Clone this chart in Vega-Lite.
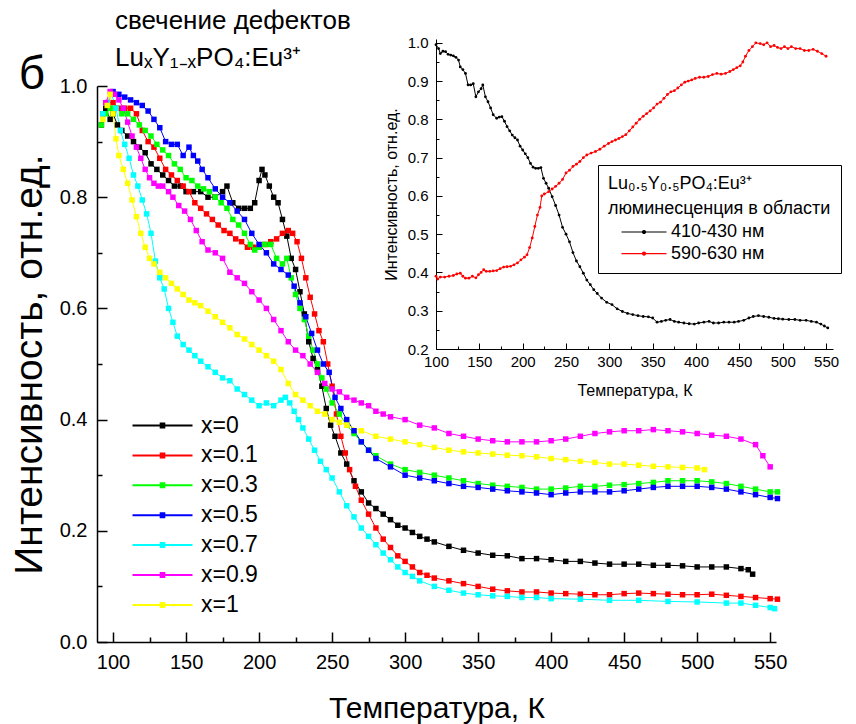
{
"$schema":"https://vega.github.io/schema/vega-lite/v6.json",
"width":739,"height":607,
"autosize":{"type":"none"},
"padding":{"left":97,"top":35,"right":20,"bottom":82},
"background":"white",
"config":{"font":"Liberation Sans","view":{"stroke":null},
 "axis":{"grid":false,"labelColor":"black","titleColor":"black","domainColor":"black","tickColor":"black","labelOverlap":false,"labelFlush":false,"titleFontWeight":"normal"}},
"title":{"text":["свечение дефектов","LuₓY₁₋ₓPO₄:Eu³⁺"],"anchor":"start","frame":"group","fontSize":26,"fontWeight":"normal","dx":18,"dy":36,"offset":0,"lineHeight":37,"color":"black"},
"datasets":{
"main":[
{"s":"x=0","t":92,"v":0.93},{"s":"x=0","t":95,"v":0.96},{"s":"x=0","t":98,"v":0.94},{"s":"x=0","t":100,"v":0.95},{"s":"x=0","t":103,"v":0.93},{"s":"x=0","t":106,"v":0.92},{"s":"x=0","t":110,"v":0.91},{"s":"x=0","t":114,"v":0.9},{"s":"x=0","t":118,"v":0.89},{"s":"x=0","t":122,"v":0.88},{"s":"x=0","t":126,"v":0.86},{"s":"x=0","t":130,"v":0.85},{"s":"x=0","t":134,"v":0.84},{"s":"x=0","t":138,"v":0.83},{"s":"x=0","t":142,"v":0.82},{"s":"x=0","t":146,"v":0.82},{"s":"x=0","t":150,"v":0.81},{"s":"x=0","t":155,"v":0.81},{"s":"x=0","t":160,"v":0.81},{"s":"x=0","t":165,"v":0.8},{"s":"x=0","t":170,"v":0.8},{"s":"x=0","t":175,"v":0.81},{"s":"x=0","t":178,"v":0.82},{"s":"x=0","t":182,"v":0.79},{"s":"x=0","t":186,"v":0.78},{"s":"x=0","t":190,"v":0.78},{"s":"x=0","t":194,"v":0.78},{"s":"x=0","t":197,"v":0.79},{"s":"x=0","t":200,"v":0.83},{"s":"x=0","t":202,"v":0.85},{"s":"x=0","t":204,"v":0.84},{"s":"x=0","t":207,"v":0.82},{"s":"x=0","t":210,"v":0.8},{"s":"x=0","t":213,"v":0.79},{"s":"x=0","t":216,"v":0.76},{"s":"x=0","t":219,"v":0.73},{"s":"x=0","t":222,"v":0.69},{"s":"x=0","t":225,"v":0.67},{"s":"x=0","t":228,"v":0.63},{"s":"x=0","t":231,"v":0.59},{"s":"x=0","t":234,"v":0.54},{"s":"x=0","t":237,"v":0.51},{"s":"x=0","t":240,"v":0.49},{"s":"x=0","t":243,"v":0.46},{"s":"x=0","t":246,"v":0.42},{"s":"x=0","t":249,"v":0.39},{"s":"x=0","t":252,"v":0.37},{"s":"x=0","t":256,"v":0.34},{"s":"x=0","t":260,"v":0.32},{"s":"x=0","t":265,"v":0.29},{"s":"x=0","t":270,"v":0.27},{"s":"x=0","t":275,"v":0.25},{"s":"x=0","t":280,"v":0.24},{"s":"x=0","t":285,"v":0.23},{"s":"x=0","t":290,"v":0.22},{"s":"x=0","t":295,"v":0.21},{"s":"x=0","t":300,"v":0.205},{"s":"x=0","t":305,"v":0.197},{"s":"x=0","t":310,"v":0.19},{"s":"x=0","t":315,"v":0.185},{"s":"x=0","t":320,"v":0.18},{"s":"x=0","t":330,"v":0.172},{"s":"x=0","t":340,"v":0.165},{"s":"x=0","t":350,"v":0.16},{"s":"x=0","t":360,"v":0.156},{"s":"x=0","t":370,"v":0.155},{"s":"x=0","t":380,"v":0.15},{"s":"x=0","t":390,"v":0.15},{"s":"x=0","t":400,"v":0.148},{"s":"x=0","t":410,"v":0.145},{"s":"x=0","t":420,"v":0.145},{"s":"x=0","t":430,"v":0.142},{"s":"x=0","t":440,"v":0.14},{"s":"x=0","t":450,"v":0.14},{"s":"x=0","t":460,"v":0.14},{"s":"x=0","t":470,"v":0.138},{"s":"x=0","t":480,"v":0.138},{"s":"x=0","t":490,"v":0.137},{"s":"x=0","t":500,"v":0.135},{"s":"x=0","t":510,"v":0.135},{"s":"x=0","t":520,"v":0.135},{"s":"x=0","t":530,"v":0.132},{"s":"x=0","t":535,"v":0.13},{"s":"x=0","t":538,"v":0.122},
{"s":"x=0.1","t":93,"v":0.95},{"s":"x=0.1","t":96,"v":0.97},{"s":"x=0.1","t":100,"v":0.97},{"s":"x=0.1","t":104,"v":0.96},{"s":"x=0.1","t":108,"v":0.96},{"s":"x=0.1","t":112,"v":0.96},{"s":"x=0.1","t":116,"v":0.95},{"s":"x=0.1","t":120,"v":0.92},{"s":"x=0.1","t":124,"v":0.9},{"s":"x=0.1","t":128,"v":0.89},{"s":"x=0.1","t":132,"v":0.87},{"s":"x=0.1","t":136,"v":0.85},{"s":"x=0.1","t":140,"v":0.84},{"s":"x=0.1","t":144,"v":0.83},{"s":"x=0.1","t":148,"v":0.82},{"s":"x=0.1","t":152,"v":0.81},{"s":"x=0.1","t":156,"v":0.79},{"s":"x=0.1","t":160,"v":0.78},{"s":"x=0.1","t":164,"v":0.77},{"s":"x=0.1","t":168,"v":0.76},{"s":"x=0.1","t":172,"v":0.75},{"s":"x=0.1","t":176,"v":0.74},{"s":"x=0.1","t":180,"v":0.735},{"s":"x=0.1","t":184,"v":0.725},{"s":"x=0.1","t":188,"v":0.72},{"s":"x=0.1","t":192,"v":0.71},{"s":"x=0.1","t":196,"v":0.71},{"s":"x=0.1","t":200,"v":0.71},{"s":"x=0.1","t":204,"v":0.715},{"s":"x=0.1","t":208,"v":0.72},{"s":"x=0.1","t":212,"v":0.725},{"s":"x=0.1","t":216,"v":0.735},{"s":"x=0.1","t":220,"v":0.74},{"s":"x=0.1","t":223,"v":0.735},{"s":"x=0.1","t":226,"v":0.72},{"s":"x=0.1","t":229,"v":0.69},{"s":"x=0.1","t":232,"v":0.655},{"s":"x=0.1","t":235,"v":0.62},{"s":"x=0.1","t":238,"v":0.59},{"s":"x=0.1","t":241,"v":0.56},{"s":"x=0.1","t":244,"v":0.54},{"s":"x=0.1","t":247,"v":0.5},{"s":"x=0.1","t":250,"v":0.46},{"s":"x=0.1","t":253,"v":0.41},{"s":"x=0.1","t":256,"v":0.37},{"s":"x=0.1","t":259,"v":0.34},{"s":"x=0.1","t":262,"v":0.31},{"s":"x=0.1","t":266,"v":0.28},{"s":"x=0.1","t":270,"v":0.255},{"s":"x=0.1","t":275,"v":0.23},{"s":"x=0.1","t":280,"v":0.205},{"s":"x=0.1","t":285,"v":0.185},{"s":"x=0.1","t":290,"v":0.17},{"s":"x=0.1","t":295,"v":0.155},{"s":"x=0.1","t":300,"v":0.145},{"s":"x=0.1","t":305,"v":0.135},{"s":"x=0.1","t":310,"v":0.125},{"s":"x=0.1","t":315,"v":0.12},{"s":"x=0.1","t":320,"v":0.115},{"s":"x=0.1","t":330,"v":0.11},{"s":"x=0.1","t":340,"v":0.105},{"s":"x=0.1","t":350,"v":0.1},{"s":"x=0.1","t":360,"v":0.095},{"s":"x=0.1","t":370,"v":0.092},{"s":"x=0.1","t":380,"v":0.09},{"s":"x=0.1","t":390,"v":0.09},{"s":"x=0.1","t":400,"v":0.088},{"s":"x=0.1","t":410,"v":0.087},{"s":"x=0.1","t":420,"v":0.086},{"s":"x=0.1","t":430,"v":0.085},{"s":"x=0.1","t":440,"v":0.085},{"s":"x=0.1","t":450,"v":0.087},{"s":"x=0.1","t":460,"v":0.088},{"s":"x=0.1","t":470,"v":0.087},{"s":"x=0.1","t":480,"v":0.086},{"s":"x=0.1","t":490,"v":0.085},{"s":"x=0.1","t":500,"v":0.085},{"s":"x=0.1","t":510,"v":0.086},{"s":"x=0.1","t":520,"v":0.084},{"s":"x=0.1","t":530,"v":0.082},{"s":"x=0.1","t":540,"v":0.08},{"s":"x=0.1","t":550,"v":0.078},{"s":"x=0.1","t":555,"v":0.077},
{"s":"x=0.3","t":92,"v":0.93},{"s":"x=0.3","t":95,"v":0.95},{"s":"x=0.3","t":98,"v":0.96},{"s":"x=0.3","t":102,"v":0.96},{"s":"x=0.3","t":106,"v":0.95},{"s":"x=0.3","t":110,"v":0.95},{"s":"x=0.3","t":114,"v":0.94},{"s":"x=0.3","t":118,"v":0.93},{"s":"x=0.3","t":122,"v":0.92},{"s":"x=0.3","t":126,"v":0.91},{"s":"x=0.3","t":130,"v":0.895},{"s":"x=0.3","t":134,"v":0.885},{"s":"x=0.3","t":138,"v":0.875},{"s":"x=0.3","t":142,"v":0.86},{"s":"x=0.3","t":146,"v":0.85},{"s":"x=0.3","t":150,"v":0.835},{"s":"x=0.3","t":154,"v":0.83},{"s":"x=0.3","t":158,"v":0.82},{"s":"x=0.3","t":162,"v":0.815},{"s":"x=0.3","t":166,"v":0.81},{"s":"x=0.3","t":170,"v":0.8},{"s":"x=0.3","t":174,"v":0.79},{"s":"x=0.3","t":178,"v":0.78},{"s":"x=0.3","t":182,"v":0.76},{"s":"x=0.3","t":186,"v":0.75},{"s":"x=0.3","t":190,"v":0.735},{"s":"x=0.3","t":194,"v":0.715},{"s":"x=0.3","t":197,"v":0.705},{"s":"x=0.3","t":200,"v":0.71},{"s":"x=0.3","t":204,"v":0.715},{"s":"x=0.3","t":208,"v":0.715},{"s":"x=0.3","t":212,"v":0.69},{"s":"x=0.3","t":216,"v":0.68},{"s":"x=0.3","t":219,"v":0.69},{"s":"x=0.3","t":222,"v":0.655},{"s":"x=0.3","t":225,"v":0.625},{"s":"x=0.3","t":228,"v":0.6},{"s":"x=0.3","t":231,"v":0.58},{"s":"x=0.3","t":234,"v":0.55},{"s":"x=0.3","t":237,"v":0.525},{"s":"x=0.3","t":240,"v":0.5},{"s":"x=0.3","t":243,"v":0.475},{"s":"x=0.3","t":246,"v":0.455},{"s":"x=0.3","t":250,"v":0.43},{"s":"x=0.3","t":255,"v":0.41},{"s":"x=0.3","t":260,"v":0.39},{"s":"x=0.3","t":265,"v":0.375},{"s":"x=0.3","t":270,"v":0.36},{"s":"x=0.3","t":275,"v":0.345},{"s":"x=0.3","t":280,"v":0.335},{"s":"x=0.3","t":290,"v":0.32},{"s":"x=0.3","t":300,"v":0.31},{"s":"x=0.3","t":310,"v":0.305},{"s":"x=0.3","t":320,"v":0.3},{"s":"x=0.3","t":330,"v":0.295},{"s":"x=0.3","t":340,"v":0.29},{"s":"x=0.3","t":350,"v":0.285},{"s":"x=0.3","t":360,"v":0.282},{"s":"x=0.3","t":370,"v":0.28},{"s":"x=0.3","t":380,"v":0.278},{"s":"x=0.3","t":390,"v":0.275},{"s":"x=0.3","t":400,"v":0.275},{"s":"x=0.3","t":410,"v":0.277},{"s":"x=0.3","t":420,"v":0.28},{"s":"x=0.3","t":430,"v":0.28},{"s":"x=0.3","t":440,"v":0.282},{"s":"x=0.3","t":450,"v":0.283},{"s":"x=0.3","t":460,"v":0.285},{"s":"x=0.3","t":470,"v":0.287},{"s":"x=0.3","t":480,"v":0.29},{"s":"x=0.3","t":490,"v":0.29},{"s":"x=0.3","t":500,"v":0.29},{"s":"x=0.3","t":510,"v":0.288},{"s":"x=0.3","t":520,"v":0.285},{"s":"x=0.3","t":530,"v":0.28},{"s":"x=0.3","t":540,"v":0.275},{"s":"x=0.3","t":550,"v":0.27},{"s":"x=0.3","t":555,"v":0.27},
{"s":"x=0.5","t":96,"v":0.97},{"s":"x=0.5","t":100,"v":0.99},{"s":"x=0.5","t":104,"v":0.985},{"s":"x=0.5","t":108,"v":0.98},{"s":"x=0.5","t":112,"v":0.975},{"s":"x=0.5","t":116,"v":0.97},{"s":"x=0.5","t":120,"v":0.965},{"s":"x=0.5","t":124,"v":0.955},{"s":"x=0.5","t":128,"v":0.94},{"s":"x=0.5","t":132,"v":0.925},{"s":"x=0.5","t":136,"v":0.9},{"s":"x=0.5","t":140,"v":0.895},{"s":"x=0.5","t":144,"v":0.895},{"s":"x=0.5","t":148,"v":0.875},{"s":"x=0.5","t":152,"v":0.89},{"s":"x=0.5","t":155,"v":0.875},{"s":"x=0.5","t":158,"v":0.865},{"s":"x=0.5","t":161,"v":0.85},{"s":"x=0.5","t":165,"v":0.835},{"s":"x=0.5","t":170,"v":0.815},{"s":"x=0.5","t":175,"v":0.8},{"s":"x=0.5","t":180,"v":0.79},{"s":"x=0.5","t":185,"v":0.775},{"s":"x=0.5","t":190,"v":0.76},{"s":"x=0.5","t":195,"v":0.735},{"s":"x=0.5","t":200,"v":0.715},{"s":"x=0.5","t":205,"v":0.7},{"s":"x=0.5","t":210,"v":0.68},{"s":"x=0.5","t":215,"v":0.67},{"s":"x=0.5","t":220,"v":0.66},{"s":"x=0.5","t":224,"v":0.64},{"s":"x=0.5","t":228,"v":0.61},{"s":"x=0.5","t":232,"v":0.585},{"s":"x=0.5","t":236,"v":0.555},{"s":"x=0.5","t":240,"v":0.525},{"s":"x=0.5","t":244,"v":0.5},{"s":"x=0.5","t":248,"v":0.485},{"s":"x=0.5","t":252,"v":0.44},{"s":"x=0.5","t":256,"v":0.42},{"s":"x=0.5","t":260,"v":0.4},{"s":"x=0.5","t":265,"v":0.38},{"s":"x=0.5","t":270,"v":0.36},{"s":"x=0.5","t":275,"v":0.345},{"s":"x=0.5","t":280,"v":0.33},{"s":"x=0.5","t":290,"v":0.315},{"s":"x=0.5","t":300,"v":0.3},{"s":"x=0.5","t":310,"v":0.295},{"s":"x=0.5","t":320,"v":0.29},{"s":"x=0.5","t":330,"v":0.285},{"s":"x=0.5","t":340,"v":0.28},{"s":"x=0.5","t":350,"v":0.278},{"s":"x=0.5","t":360,"v":0.275},{"s":"x=0.5","t":370,"v":0.272},{"s":"x=0.5","t":380,"v":0.27},{"s":"x=0.5","t":390,"v":0.268},{"s":"x=0.5","t":400,"v":0.265},{"s":"x=0.5","t":410,"v":0.268},{"s":"x=0.5","t":420,"v":0.27},{"s":"x=0.5","t":430,"v":0.27},{"s":"x=0.5","t":440,"v":0.27},{"s":"x=0.5","t":450,"v":0.272},{"s":"x=0.5","t":460,"v":0.275},{"s":"x=0.5","t":470,"v":0.278},{"s":"x=0.5","t":480,"v":0.28},{"s":"x=0.5","t":490,"v":0.28},{"s":"x=0.5","t":500,"v":0.28},{"s":"x=0.5","t":510,"v":0.278},{"s":"x=0.5","t":520,"v":0.275},{"s":"x=0.5","t":530,"v":0.27},{"s":"x=0.5","t":540,"v":0.265},{"s":"x=0.5","t":550,"v":0.26},{"s":"x=0.5","t":555,"v":0.258},
{"s":"x=0.7","t":93,"v":0.95},{"s":"x=0.7","t":96,"v":0.97},{"s":"x=0.7","t":99,"v":0.985},{"s":"x=0.7","t":102,"v":0.96},{"s":"x=0.7","t":105,"v":0.92},{"s":"x=0.7","t":108,"v":0.895},{"s":"x=0.7","t":111,"v":0.87},{"s":"x=0.7","t":114,"v":0.84},{"s":"x=0.7","t":117,"v":0.82},{"s":"x=0.7","t":120,"v":0.795},{"s":"x=0.7","t":123,"v":0.77},{"s":"x=0.7","t":126,"v":0.735},{"s":"x=0.7","t":129,"v":0.685},{"s":"x=0.7","t":132,"v":0.655},{"s":"x=0.7","t":135,"v":0.635},{"s":"x=0.7","t":138,"v":0.6},{"s":"x=0.7","t":141,"v":0.575},{"s":"x=0.7","t":144,"v":0.55},{"s":"x=0.7","t":148,"v":0.535},{"s":"x=0.7","t":152,"v":0.525},{"s":"x=0.7","t":156,"v":0.515},{"s":"x=0.7","t":160,"v":0.505},{"s":"x=0.7","t":165,"v":0.495},{"s":"x=0.7","t":170,"v":0.485},{"s":"x=0.7","t":175,"v":0.475},{"s":"x=0.7","t":180,"v":0.47},{"s":"x=0.7","t":185,"v":0.455},{"s":"x=0.7","t":190,"v":0.445},{"s":"x=0.7","t":195,"v":0.435},{"s":"x=0.7","t":200,"v":0.425},{"s":"x=0.7","t":205,"v":0.43},{"s":"x=0.7","t":210,"v":0.425},{"s":"x=0.7","t":215,"v":0.435},{"s":"x=0.7","t":218,"v":0.44},{"s":"x=0.7","t":221,"v":0.43},{"s":"x=0.7","t":224,"v":0.415},{"s":"x=0.7","t":227,"v":0.4},{"s":"x=0.7","t":230,"v":0.385},{"s":"x=0.7","t":234,"v":0.365},{"s":"x=0.7","t":238,"v":0.345},{"s":"x=0.7","t":242,"v":0.325},{"s":"x=0.7","t":246,"v":0.31},{"s":"x=0.7","t":250,"v":0.295},{"s":"x=0.7","t":255,"v":0.27},{"s":"x=0.7","t":260,"v":0.245},{"s":"x=0.7","t":265,"v":0.225},{"s":"x=0.7","t":270,"v":0.205},{"s":"x=0.7","t":275,"v":0.19},{"s":"x=0.7","t":280,"v":0.175},{"s":"x=0.7","t":285,"v":0.16},{"s":"x=0.7","t":290,"v":0.148},{"s":"x=0.7","t":295,"v":0.135},{"s":"x=0.7","t":300,"v":0.125},{"s":"x=0.7","t":305,"v":0.118},{"s":"x=0.7","t":310,"v":0.11},{"s":"x=0.7","t":320,"v":0.1},{"s":"x=0.7","t":330,"v":0.093},{"s":"x=0.7","t":340,"v":0.088},{"s":"x=0.7","t":350,"v":0.085},{"s":"x=0.7","t":360,"v":0.083},{"s":"x=0.7","t":370,"v":0.082},{"s":"x=0.7","t":380,"v":0.08},{"s":"x=0.7","t":390,"v":0.08},{"s":"x=0.7","t":400,"v":0.078},{"s":"x=0.7","t":420,"v":0.077},{"s":"x=0.7","t":440,"v":0.075},{"s":"x=0.7","t":460,"v":0.075},{"s":"x=0.7","t":480,"v":0.073},{"s":"x=0.7","t":500,"v":0.072},{"s":"x=0.7","t":520,"v":0.07},{"s":"x=0.7","t":530,"v":0.07},{"s":"x=0.7","t":540,"v":0.066},{"s":"x=0.7","t":550,"v":0.062},{"s":"x=0.7","t":553,"v":0.06},
{"s":"x=0.9","t":95,"v":0.97},{"s":"x=0.9","t":98,"v":0.99},{"s":"x=0.9","t":101,"v":0.985},{"s":"x=0.9","t":104,"v":0.975},{"s":"x=0.9","t":107,"v":0.96},{"s":"x=0.9","t":110,"v":0.935},{"s":"x=0.9","t":113,"v":0.91},{"s":"x=0.9","t":116,"v":0.89},{"s":"x=0.9","t":119,"v":0.87},{"s":"x=0.9","t":122,"v":0.85},{"s":"x=0.9","t":125,"v":0.835},{"s":"x=0.9","t":128,"v":0.825},{"s":"x=0.9","t":131,"v":0.82},{"s":"x=0.9","t":134,"v":0.82},{"s":"x=0.9","t":138,"v":0.81},{"s":"x=0.9","t":141,"v":0.8},{"s":"x=0.9","t":145,"v":0.785},{"s":"x=0.9","t":149,"v":0.775},{"s":"x=0.9","t":153,"v":0.76},{"s":"x=0.9","t":157,"v":0.74},{"s":"x=0.9","t":161,"v":0.72},{"s":"x=0.9","t":165,"v":0.705},{"s":"x=0.9","t":170,"v":0.7},{"s":"x=0.9","t":175,"v":0.69},{"s":"x=0.9","t":180,"v":0.665},{"s":"x=0.9","t":185,"v":0.655},{"s":"x=0.9","t":190,"v":0.645},{"s":"x=0.9","t":195,"v":0.63},{"s":"x=0.9","t":200,"v":0.615},{"s":"x=0.9","t":205,"v":0.6},{"s":"x=0.9","t":210,"v":0.58},{"s":"x=0.9","t":215,"v":0.56},{"s":"x=0.9","t":220,"v":0.54},{"s":"x=0.9","t":225,"v":0.525},{"s":"x=0.9","t":230,"v":0.515},{"s":"x=0.9","t":235,"v":0.5},{"s":"x=0.9","t":240,"v":0.485},{"s":"x=0.9","t":245,"v":0.465},{"s":"x=0.9","t":250,"v":0.455},{"s":"x=0.9","t":255,"v":0.45},{"s":"x=0.9","t":260,"v":0.44},{"s":"x=0.9","t":265,"v":0.435},{"s":"x=0.9","t":270,"v":0.43},{"s":"x=0.9","t":275,"v":0.425},{"s":"x=0.9","t":280,"v":0.415},{"s":"x=0.9","t":285,"v":0.41},{"s":"x=0.9","t":290,"v":0.405},{"s":"x=0.9","t":300,"v":0.4},{"s":"x=0.9","t":310,"v":0.39},{"s":"x=0.9","t":320,"v":0.385},{"s":"x=0.9","t":330,"v":0.375},{"s":"x=0.9","t":340,"v":0.37},{"s":"x=0.9","t":350,"v":0.365},{"s":"x=0.9","t":360,"v":0.362},{"s":"x=0.9","t":370,"v":0.36},{"s":"x=0.9","t":380,"v":0.36},{"s":"x=0.9","t":390,"v":0.36},{"s":"x=0.9","t":400,"v":0.362},{"s":"x=0.9","t":410,"v":0.365},{"s":"x=0.9","t":420,"v":0.37},{"s":"x=0.9","t":430,"v":0.375},{"s":"x=0.9","t":440,"v":0.378},{"s":"x=0.9","t":450,"v":0.38},{"s":"x=0.9","t":460,"v":0.38},{"s":"x=0.9","t":470,"v":0.382},{"s":"x=0.9","t":480,"v":0.38},{"s":"x=0.9","t":490,"v":0.378},{"s":"x=0.9","t":500,"v":0.375},{"s":"x=0.9","t":510,"v":0.372},{"s":"x=0.9","t":520,"v":0.37},{"s":"x=0.9","t":530,"v":0.365},{"s":"x=0.9","t":540,"v":0.355},{"s":"x=0.9","t":545,"v":0.335},{"s":"x=0.9","t":550,"v":0.315},
{"s":"x=1","t":93,"v":0.94},{"s":"x=1","t":96,"v":0.965},{"s":"x=1","t":98,"v":0.985},{"s":"x=1","t":100,"v":0.95},{"s":"x=1","t":102,"v":0.905},{"s":"x=1","t":104,"v":0.875},{"s":"x=1","t":107,"v":0.85},{"s":"x=1","t":110,"v":0.825},{"s":"x=1","t":113,"v":0.795},{"s":"x=1","t":116,"v":0.765},{"s":"x=1","t":119,"v":0.735},{"s":"x=1","t":122,"v":0.71},{"s":"x=1","t":125,"v":0.69},{"s":"x=1","t":128,"v":0.68},{"s":"x=1","t":132,"v":0.665},{"s":"x=1","t":136,"v":0.655},{"s":"x=1","t":140,"v":0.645},{"s":"x=1","t":144,"v":0.635},{"s":"x=1","t":148,"v":0.625},{"s":"x=1","t":152,"v":0.615},{"s":"x=1","t":156,"v":0.61},{"s":"x=1","t":160,"v":0.605},{"s":"x=1","t":165,"v":0.595},{"s":"x=1","t":170,"v":0.585},{"s":"x=1","t":175,"v":0.575},{"s":"x=1","t":180,"v":0.565},{"s":"x=1","t":185,"v":0.553},{"s":"x=1","t":190,"v":0.545},{"s":"x=1","t":195,"v":0.535},{"s":"x=1","t":200,"v":0.525},{"s":"x=1","t":205,"v":0.515},{"s":"x=1","t":210,"v":0.505},{"s":"x=1","t":215,"v":0.49},{"s":"x=1","t":220,"v":0.465},{"s":"x=1","t":225,"v":0.445},{"s":"x=1","t":230,"v":0.435},{"s":"x=1","t":235,"v":0.425},{"s":"x=1","t":240,"v":0.415},{"s":"x=1","t":245,"v":0.41},{"s":"x=1","t":250,"v":0.4},{"s":"x=1","t":255,"v":0.395},{"s":"x=1","t":260,"v":0.39},{"s":"x=1","t":270,"v":0.38},{"s":"x=1","t":280,"v":0.37},{"s":"x=1","t":290,"v":0.365},{"s":"x=1","t":300,"v":0.36},{"s":"x=1","t":310,"v":0.355},{"s":"x=1","t":320,"v":0.35},{"s":"x=1","t":330,"v":0.345},{"s":"x=1","t":340,"v":0.342},{"s":"x=1","t":350,"v":0.34},{"s":"x=1","t":360,"v":0.338},{"s":"x=1","t":370,"v":0.336},{"s":"x=1","t":380,"v":0.335},{"s":"x=1","t":390,"v":0.333},{"s":"x=1","t":400,"v":0.33},{"s":"x=1","t":410,"v":0.328},{"s":"x=1","t":420,"v":0.325},{"s":"x=1","t":430,"v":0.323},{"s":"x=1","t":440,"v":0.32},{"s":"x=1","t":450,"v":0.32},{"s":"x=1","t":460,"v":0.318},{"s":"x=1","t":470,"v":0.316},{"s":"x=1","t":480,"v":0.315},{"s":"x=1","t":490,"v":0.314},{"s":"x=1","t":500,"v":0.313},{"s":"x=1","t":505,"v":0.31}
],
"ins":[
{"s":"410-430 нм","t":100,"v":0.995},{"s":"410-430 нм","t":103,"v":0.985},{"s":"410-430 нм","t":105,"v":0.972},{"s":"410-430 нм","t":108,"v":0.978},{"s":"410-430 нм","t":111,"v":0.977},{"s":"410-430 нм","t":114,"v":0.97},{"s":"410-430 нм","t":117,"v":0.968},{"s":"410-430 нм","t":120,"v":0.966},{"s":"410-430 нм","t":123,"v":0.962},{"s":"410-430 нм","t":126,"v":0.955},{"s":"410-430 нм","t":128,"v":0.937},{"s":"410-430 нм","t":131,"v":0.93},{"s":"410-430 нм","t":134,"v":0.92},{"s":"410-430 нм","t":137,"v":0.89},{"s":"410-430 нм","t":140,"v":0.89},{"s":"410-430 нм","t":143,"v":0.893},{"s":"410-430 нм","t":146,"v":0.859},{"s":"410-430 нм","t":149,"v":0.872},{"s":"410-430 нм","t":152,"v":0.88},{"s":"410-430 нм","t":154,"v":0.89},{"s":"410-430 нм","t":157,"v":0.859},{"s":"410-430 нм","t":160,"v":0.846},{"s":"410-430 нм","t":163,"v":0.83},{"s":"410-430 нм","t":166,"v":0.812},{"s":"410-430 нм","t":170,"v":0.803},{"s":"410-430 нм","t":173,"v":0.806},{"s":"410-430 нм","t":176,"v":0.807},{"s":"410-430 нм","t":179,"v":0.795},{"s":"410-430 нм","t":182,"v":0.781},{"s":"410-430 нм","t":185,"v":0.77},{"s":"410-430 нм","t":188,"v":0.759},{"s":"410-430 нм","t":191,"v":0.752},{"s":"410-430 нм","t":194,"v":0.746},{"s":"410-430 нм","t":197,"v":0.73},{"s":"410-430 нм","t":200,"v":0.72},{"s":"410-430 нм","t":203,"v":0.71},{"s":"410-430 нм","t":206,"v":0.7},{"s":"410-430 нм","t":209,"v":0.685},{"s":"410-430 нм","t":212,"v":0.675},{"s":"410-430 нм","t":215,"v":0.672},{"s":"410-430 нм","t":218,"v":0.672},{"s":"410-430 нм","t":221,"v":0.674},{"s":"410-430 нм","t":224,"v":0.646},{"s":"410-430 нм","t":227,"v":0.633},{"s":"410-430 нм","t":230,"v":0.62},{"s":"410-430 нм","t":234,"v":0.598},{"s":"410-430 нм","t":238,"v":0.575},{"s":"410-430 нм","t":242,"v":0.55},{"s":"410-430 нм","t":246,"v":0.518},{"s":"410-430 нм","t":250,"v":0.5},{"s":"410-430 нм","t":254,"v":0.48},{"s":"410-430 нм","t":258,"v":0.452},{"s":"410-430 нм","t":262,"v":0.43},{"s":"410-430 нм","t":266,"v":0.415},{"s":"410-430 нм","t":270,"v":0.398},{"s":"410-430 нм","t":274,"v":0.38},{"s":"410-430 нм","t":278,"v":0.368},{"s":"410-430 нм","t":282,"v":0.355},{"s":"410-430 нм","t":286,"v":0.345},{"s":"410-430 нм","t":291,"v":0.333},{"s":"410-430 нм","t":297,"v":0.322},{"s":"410-430 нм","t":303,"v":0.316},{"s":"410-430 нм","t":309,"v":0.305},{"s":"410-430 нм","t":315,"v":0.298},{"s":"410-430 нм","t":321,"v":0.293},{"s":"410-430 нм","t":327,"v":0.29},{"s":"410-430 нм","t":333,"v":0.287},{"s":"410-430 нм","t":339,"v":0.285},{"s":"410-430 нм","t":345,"v":0.284},{"s":"410-430 нм","t":350,"v":0.281},{"s":"410-430 нм","t":355,"v":0.27},{"s":"410-430 нм","t":360,"v":0.272},{"s":"410-430 нм","t":365,"v":0.275},{"s":"410-430 нм","t":370,"v":0.277},{"s":"410-430 нм","t":375,"v":0.272},{"s":"410-430 нм","t":380,"v":0.27},{"s":"410-430 нм","t":386,"v":0.268},{"s":"410-430 нм","t":392,"v":0.266},{"s":"410-430 нм","t":398,"v":0.265},{"s":"410-430 нм","t":403,"v":0.268},{"s":"410-430 нм","t":409,"v":0.27},{"s":"410-430 нм","t":415,"v":0.272},{"s":"410-430 нм","t":420,"v":0.268},{"s":"410-430 нм","t":426,"v":0.268},{"s":"410-430 нм","t":432,"v":0.27},{"s":"410-430 нм","t":438,"v":0.27},{"s":"410-430 нм","t":444,"v":0.27},{"s":"410-430 нм","t":449,"v":0.272},{"s":"410-430 нм","t":455,"v":0.275},{"s":"410-430 нм","t":461,"v":0.281},{"s":"410-430 нм","t":466,"v":0.285},{"s":"410-430 нм","t":472,"v":0.287},{"s":"410-430 нм","t":478,"v":0.285},{"s":"410-430 нм","t":484,"v":0.283},{"s":"410-430 нм","t":490,"v":0.28},{"s":"410-430 нм","t":495,"v":0.279},{"s":"410-430 нм","t":500,"v":0.278},{"s":"410-430 нм","t":507,"v":0.277},{"s":"410-430 нм","t":514,"v":0.277},{"s":"410-430 нм","t":520,"v":0.275},{"s":"410-430 нм","t":527,"v":0.275},{"s":"410-430 нм","t":533,"v":0.272},{"s":"410-430 нм","t":539,"v":0.27},{"s":"410-430 нм","t":544,"v":0.265},{"s":"410-430 нм","t":548,"v":0.26},{"s":"410-430 нм","t":552,"v":0.255},
{"s":"590-630 нм","t":100,"v":0.39},{"s":"590-630 нм","t":102,"v":0.383},{"s":"590-630 нм","t":105,"v":0.388},{"s":"590-630 нм","t":110,"v":0.388},{"s":"590-630 нм","t":115,"v":0.39},{"s":"590-630 нм","t":120,"v":0.392},{"s":"590-630 нм","t":124,"v":0.396},{"s":"590-630 нм","t":128,"v":0.398},{"s":"590-630 нм","t":131,"v":0.39},{"s":"590-630 нм","t":134,"v":0.385},{"s":"590-630 нм","t":138,"v":0.385},{"s":"590-630 нм","t":142,"v":0.39},{"s":"590-630 нм","t":146,"v":0.386},{"s":"590-630 нм","t":149,"v":0.394},{"s":"590-630 нм","t":152,"v":0.4},{"s":"590-630 нм","t":155,"v":0.407},{"s":"590-630 нм","t":158,"v":0.403},{"s":"590-630 нм","t":162,"v":0.403},{"s":"590-630 нм","t":166,"v":0.404},{"s":"590-630 нм","t":170,"v":0.405},{"s":"590-630 нм","t":174,"v":0.41},{"s":"590-630 нм","t":178,"v":0.414},{"s":"590-630 нм","t":182,"v":0.415},{"s":"590-630 нм","t":186,"v":0.416},{"s":"590-630 нм","t":190,"v":0.42},{"s":"590-630 нм","t":194,"v":0.425},{"s":"590-630 нм","t":198,"v":0.433},{"s":"590-630 нм","t":202,"v":0.44},{"s":"590-630 нм","t":205,"v":0.446},{"s":"590-630 нм","t":208,"v":0.465},{"s":"590-630 нм","t":211,"v":0.49},{"s":"590-630 нм","t":214,"v":0.52},{"s":"590-630 нм","t":217,"v":0.55},{"s":"590-630 нм","t":220,"v":0.57},{"s":"590-630 нм","t":222,"v":0.6},{"s":"590-630 нм","t":225,"v":0.605},{"s":"590-630 нм","t":230,"v":0.611},{"s":"590-630 нм","t":234,"v":0.618},{"s":"590-630 нм","t":238,"v":0.625},{"s":"590-630 нм","t":242,"v":0.633},{"s":"590-630 нм","t":246,"v":0.643},{"s":"590-630 нм","t":250,"v":0.66},{"s":"590-630 нм","t":254,"v":0.667},{"s":"590-630 нм","t":258,"v":0.677},{"s":"590-630 нм","t":262,"v":0.683},{"s":"590-630 нм","t":266,"v":0.69},{"s":"590-630 нм","t":270,"v":0.7},{"s":"590-630 нм","t":274,"v":0.707},{"s":"590-630 нм","t":279,"v":0.712},{"s":"590-630 нм","t":284,"v":0.716},{"s":"590-630 нм","t":289,"v":0.722},{"s":"590-630 нм","t":294,"v":0.73},{"s":"590-630 нм","t":299,"v":0.737},{"s":"590-630 нм","t":303,"v":0.742},{"s":"590-630 нм","t":307,"v":0.746},{"s":"590-630 нм","t":311,"v":0.75},{"s":"590-630 нм","t":315,"v":0.755},{"s":"590-630 нм","t":319,"v":0.76},{"s":"590-630 нм","t":323,"v":0.77},{"s":"590-630 нм","t":327,"v":0.78},{"s":"590-630 нм","t":331,"v":0.79},{"s":"590-630 нм","t":335,"v":0.8},{"s":"590-630 нм","t":339,"v":0.808},{"s":"590-630 нм","t":343,"v":0.815},{"s":"590-630 нм","t":347,"v":0.822},{"s":"590-630 нм","t":351,"v":0.83},{"s":"590-630 нм","t":355,"v":0.84},{"s":"590-630 нм","t":359,"v":0.845},{"s":"590-630 нм","t":363,"v":0.855},{"s":"590-630 нм","t":367,"v":0.865},{"s":"590-630 нм","t":371,"v":0.872},{"s":"590-630 нм","t":375,"v":0.875},{"s":"590-630 нм","t":379,"v":0.882},{"s":"590-630 нм","t":383,"v":0.89},{"s":"590-630 нм","t":387,"v":0.897},{"s":"590-630 нм","t":391,"v":0.9},{"s":"590-630 нм","t":395,"v":0.903},{"s":"590-630 нм","t":399,"v":0.907},{"s":"590-630 нм","t":404,"v":0.91},{"s":"590-630 нм","t":409,"v":0.91},{"s":"590-630 нм","t":414,"v":0.912},{"s":"590-630 нм","t":419,"v":0.917},{"s":"590-630 нм","t":424,"v":0.92},{"s":"590-630 нм","t":429,"v":0.918},{"s":"590-630 нм","t":434,"v":0.92},{"s":"590-630 нм","t":439,"v":0.925},{"s":"590-630 нм","t":443,"v":0.93},{"s":"590-630 нм","t":447,"v":0.935},{"s":"590-630 нм","t":451,"v":0.94},{"s":"590-630 нм","t":454,"v":0.95},{"s":"590-630 нм","t":457,"v":0.965},{"s":"590-630 нм","t":461,"v":0.98},{"s":"590-630 нм","t":465,"v":0.99},{"s":"590-630 нм","t":469,"v":1.0},{"s":"590-630 нм","t":474,"v":0.998},{"s":"590-630 нм","t":478,"v":0.995},{"s":"590-630 нм","t":482,"v":1.0},{"s":"590-630 нм","t":486,"v":0.99},{"s":"590-630 нм","t":490,"v":0.993},{"s":"590-630 нм","t":494,"v":0.988},{"s":"590-630 нм","t":498,"v":0.985},{"s":"590-630 нм","t":502,"v":0.99},{"s":"590-630 нм","t":506,"v":0.985},{"s":"590-630 нм","t":510,"v":0.99},{"s":"590-630 нм","t":515,"v":0.985},{"s":"590-630 нм","t":520,"v":0.985},{"s":"590-630 нм","t":525,"v":0.98},{"s":"590-630 нм","t":530,"v":0.98},{"s":"590-630 нм","t":535,"v":0.983},{"s":"590-630 нм","t":540,"v":0.978},{"s":"590-630 нм","t":545,"v":0.972},{"s":"590-630 нм","t":550,"v":0.965}
]},
"layer":[
{"data":{"name":"main"},
 "encoding":{
  "x":{"field":"t","type":"quantitative","scale":{"domain":[89,554],"range":[0,679]},
   "axis":{"title":"Температура, К","titleFontSize":30,"labelFontSize":20,"values":[100,125,150,175,200,225,250,275,300,325,350,375,400,425,450,475,500,525,550],
    "labelExpr":"datum.value % 50 == 0 ? datum.label : ''","tickSize":{"condition":{"test":"datum.value % 50 == 0","value":-10},"value":-5},
    "tickWidth":1.5,"domainWidth":1.5,"labelPadding":20,"titlePadding":16}},
  "y":{"field":"v","type":"quantitative","scale":{"domain":[0,1],"range":[607,51]},
   "axis":{"title":"Интенсивность, отн.ед.","titleFontSize":39,"labelFontSize":20,"values":[0,0.1,0.2,0.3,0.4,0.5,0.6,0.7,0.8,0.9,1.0],
    "labelExpr":"round(datum.value*10) % 2 == 0 ? format(datum.value,'.1f') : ''","tickSize":{"condition":{"test":"round(datum.value*10) % 2 == 0","value":-10},"value":-5},
    "tickWidth":1.5,"domainWidth":1.5,"labelPadding":20,"titlePadding":10}},
  "color":{"field":"s","type":"nominal","scale":{"domain":["x=0","x=0.1","x=0.3","x=0.5","x=0.7","x=0.9","x=1"],"range":["#000000","#FF0000","#00FF00","#0000FF","#00FFFF","#FF00FF","#FFFF00"]},
   "legend":{"orient":"none","legendX":34,"legendY":379,"title":null,"padding":0,"symbolType":"M-3,0H3M-0.28,-0.2H0.28M-0.28,0H0.28M-0.28,0.2H0.28","symbolSize":400,"symbolStrokeWidth":2,"symbolOffset":20,"labelOffset":27,"labelFontSize":23,"labelColor":"black","rowPadding":5.9}}
 },
 "layer":[
  {"mark":{"type":"line","strokeWidth":1}},
  {"mark":{"type":"square","size":30,"opacity":1}}
 ]},
{"data":{"name":"ins"},
 "encoding":{
  "x":{"field":"t","type":"quantitative","scale":{"domain":[100,558],"range":[339,736]},
   "axis":{"orient":"bottom","offset":-293,"title":"Температура, К","titleFontSize":16,"labelFontSize":15,"values":[100,125,150,175,200,225,250,275,300,325,350,375,400,425,450,475,500,525,550],
    "labelExpr":"datum.value % 50 == 0 ? datum.label : ''","tickSize":{"condition":{"test":"datum.value % 50 == 0","value":-6},"value":-3},"labelPadding":11,"titlePadding":10}},
  "y":{"field":"v","type":"quantitative","scale":{"domain":[0.2,1.01],"range":[314,4]},
   "axis":{"orient":"left","offset":-339,"title":"Интенсивность, отн.ед.","titleFontSize":16,"labelFontSize":15,"values":[0.2,0.25,0.3,0.35,0.4,0.45,0.5,0.55,0.6,0.65,0.7,0.75,0.8,0.85,0.9,0.95,1.0],
    "labelExpr":"round(datum.value*100) % 10 == 0 ? format(datum.value,'.1f') : ''","tickSize":{"condition":{"test":"round(datum.value*100) % 10 == 0","value":-6},"value":-3},"labelPadding":14,"titlePadding":8}},
  "color":{"field":"s","type":"nominal","scale":{"domain":["410-430 нм","590-630 нм"],"range":["#000000","#FF0000"]},
   "legend":{"orient":"none","legendX":501,"legendY":130,"title":["\u00a0\u00a0Lu₀.₅Y₀.₅PO₄:Eu³⁺","\u00a0\u00a0люминесценция в области"],"titleFontSize":18,"titleFontWeight":"normal","titleColor":"black","titleLineHeight":25,"titleLimit":400,"titlePadding":5,
    "strokeColor":"black","fillColor":"white","padding":10,"symbolType":"M-3.75,0H3.75M-0.25,0A0.25,0.25 0 1,0 0.25,0A0.25,0.25 0 1,0 -0.25,0","symbolSize":144,"symbolStrokeWidth":1.2,"symbolOffset":27,"labelOffset":18,"labelFontSize":18,"labelColor":"black","rowPadding":3.6}}
 },
 "layer":[
  {"mark":{"type":"line","strokeWidth":1}},
  {"mark":{"type":"circle","size":8,"opacity":1}}
 ]},
{"data":{"values":[{"lab":"б"}]},
 "mark":{"type":"text","fontSize":46,"align":"center","baseline":"middle","color":"black"},
 "encoding":{"text":{"field":"lab","type":"nominal"},
  "x":{"datum":44.5,"type":"quantitative","scale":{"domain":[89,554],"range":[0,679]},"axis":null},
  "y":{"datum":1.02,"type":"quantitative","scale":{"domain":[0,1],"range":[607,51]},"axis":null}}}
],
"resolve":{"scale":{"x":"independent","y":"independent","color":"independent"},"axis":{"x":"independent","y":"independent"},"legend":{"color":"independent"}}
}
